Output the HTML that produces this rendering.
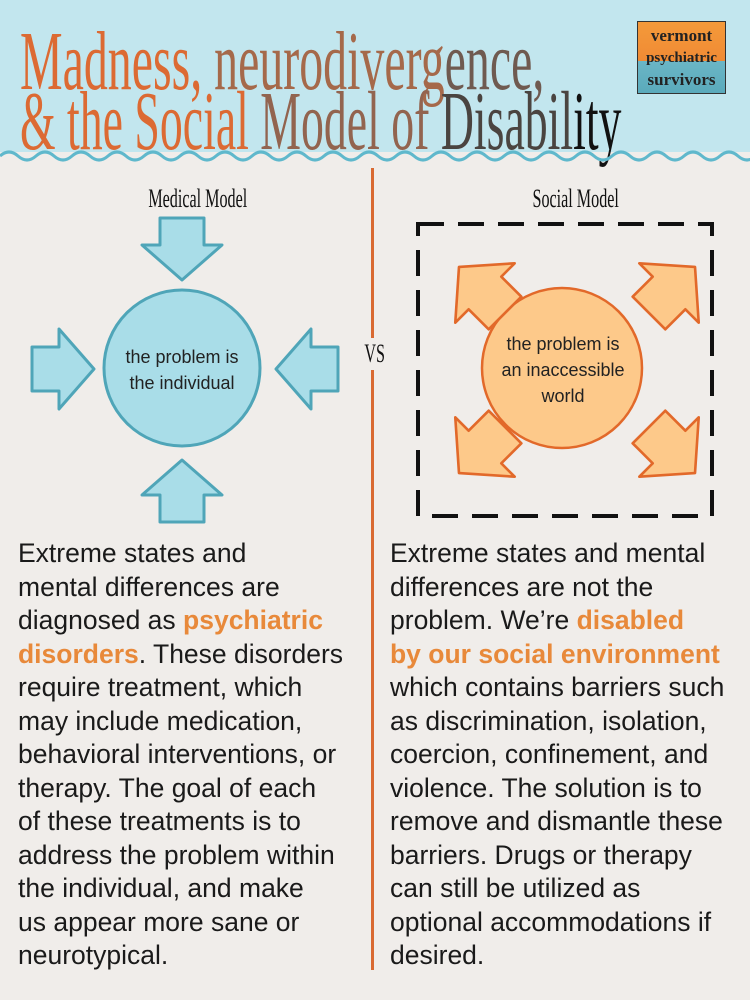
<!DOCTYPE html>
<html><head><meta charset="utf-8"><style>
body{margin:0;width:750px;height:1000px;background:#f0edea;position:relative;overflow:hidden;font-family:"Liberation Sans",sans-serif}
.hdr{position:absolute;left:0;top:0;width:750px;height:152px;background:#c2e6ee}
.t{position:absolute;left:20px;font-family:"Liberation Serif",serif;font-size:84px;white-space:nowrap;transform-origin:0 0;line-height:1}
.col{position:absolute;font-size:26.5px;line-height:33.5px;color:#1a1a1a;white-space:nowrap}
.o{color:#e8893a;font-weight:bold}
.lbl{position:absolute;font-family:"Liberation Serif",serif;font-size:26px;transform:scaleX(.62);transform-origin:50% 0;white-space:nowrap;color:#111}
</style></head><body>
<div class="hdr"></div>
<div class="t" style="top:20px;transform:scaleX(.57)"><span style="color:#dc6a33">Madness, </span><span style="color:#a5694a">neurodiverg</span><span style="color:#6f5a50">ence,</span></div>
<div class="t" style="top:80px;transform:scaleX(.545)"><span style="color:#dc6a33">&amp; the Social </span><span style="color:#92644f">Model of </span><span style="color:#4a4440">Disabil</span><span style="color:#111">ity</span></div>
<svg style="position:absolute;left:0;top:144px" width="750" height="24"><path d="M0 12 q9 -8 18 0 t18 0 t18 0 t18 0 t18 0 t18 0 t18 0 t18 0 t18 0 t18 0 t18 0 t18 0 t18 0 t18 0 t18 0 t18 0 t18 0 t18 0 t18 0 t18 0 t18 0 t18 0 t18 0 t18 0 t18 0 t18 0 t18 0 t18 0 t18 0 t18 0 t18 0 t18 0 t18 0 t18 0 t18 0 t18 0 t18 0 t18 0 t18 0 t18 0 t18 0 t18 0" fill="none" stroke="#5fb8cc" stroke-width="3"/></svg>
<div style="position:absolute;left:637px;top:21px;width:89px;height:73px;border:1px solid #333;background:linear-gradient(#f49a3a 0,#f08a34 55%,#6bb6c6 55%,#5aaabb 100%);text-align:center;font-family:'Liberation Serif',serif;font-weight:bold;color:#222;line-height:21px;font-size:17px;padding-top:3px;box-sizing:border-box">vermont<br><span style="font-size:15px">psychiatric</span><br>survivors</div>
<div style="position:absolute;left:371px;top:168px;width:3px;height:170px;background:#d96a32"></div>
<div style="position:absolute;left:371px;top:370px;width:3px;height:600px;background:#d96a32"></div>
<div class="lbl" style="left:358px;top:339px">VS</div>
<div class="lbl" style="left:118px;top:184px">Medical Model</div>
<div class="lbl" style="left:506px;top:184px">Social Model</div>
<svg style="position:absolute;left:0;top:0" width="750" height="540">
<defs><polygon id="ab" points="-22,-31 22,-31 22,-4 40,-4 0,31 -40,-4 -22,-4" stroke-linejoin="round"/></defs>
<g fill="#a9dde8" stroke="#4fa5b8" stroke-width="3">
<circle cx="182" cy="368" r="78"/>
<use href="#ab" transform="translate(182,249)"/>
<use href="#ab" transform="translate(182,491) rotate(180)"/>
<use href="#ab" transform="translate(63,369) rotate(-90)"/>
<use href="#ab" transform="translate(307,369) rotate(90)"/>
</g>
<rect x="418" y="224" width="294" height="292" fill="none" stroke="#111" stroke-width="4" stroke-dasharray="26,14"/>
<g fill="#fdc98a" stroke="#e2692a" stroke-width="2.5">
<circle cx="562" cy="368" r="80"/>
<use href="#ab" transform="translate(482,290) rotate(135) scale(1.05)"/>
<use href="#ab" transform="translate(672,290) rotate(-135) scale(1.05)"/>
<use href="#ab" transform="translate(482,450) rotate(45) scale(1.05)"/>
<use href="#ab" transform="translate(672,450) rotate(-45) scale(1.05)"/>
</g>
<g font-family="Liberation Sans, sans-serif" font-size="18" fill="#222" text-anchor="middle">
<text x="182" y="363">the problem is</text><text x="182" y="389">the individual</text>
<text x="563" y="350">the problem is</text><text x="563" y="376">an inaccessible</text><text x="563" y="402">world</text>
</g>
</svg>
<div class="col" style="left:18px;top:537px">Extreme states and<br>mental differences are<br>diagnosed as <span class="o">psychiatric</span><br><span class="o">disorders</span>. These disorders<br>require treatment, which<br>may include medication,<br>behavioral interventions, or<br>therapy. The goal of each<br>of these treatments is to<br>address the problem within<br>the individual, and make<br>us appear more sane or<br>neurotypical.</div>
<div class="col" style="left:390px;top:537px">Extreme states and mental<br>differences are not the<br>problem. We’re <span class="o">disabled</span><br><span class="o">by our social environment</span><br>which contains barriers such<br>as discrimination, isolation,<br>coercion, confinement, and<br>violence. The solution is to<br>remove and dismantle these<br>barriers. Drugs or therapy<br>can still be utilized as<br>optional accommodations if<br>desired.</div>
</body></html>
